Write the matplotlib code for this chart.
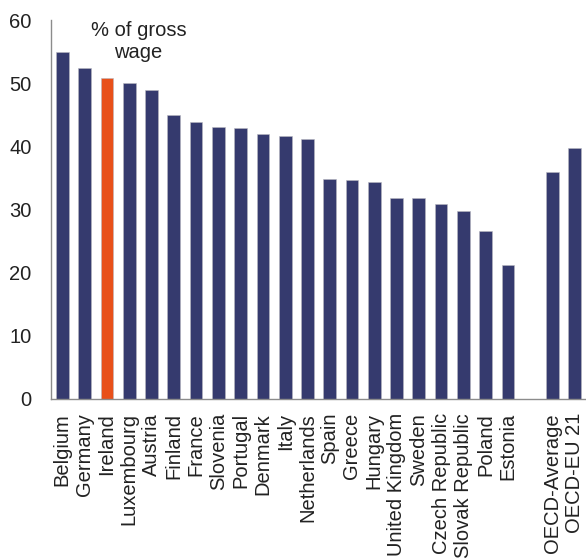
import numpy as np
import matplotlib.pyplot as plt

plt.rcParams.update({"font.family": "Liberation Sans", "font.size": 14.5})

countries = ["Belgium", "Germany", "Ireland", "Luxembourg", "Austria", "Finland",
             "France", "Slovenia", "Portugal", "Denmark", "Italy", "Netherlands",
             "Spain", "Greece", "Hungary", "United Kingdom", "Sweden",
             "Czech Republic", "Slovak Republic", "Poland", "Estonia"]
country_values = [54.9, 52.5, 50.9, 50.0, 49.0, 45.0, 43.8, 43.1, 42.9, 41.9, 41.7,
                  41.1, 34.9, 34.7, 34.4, 31.9, 31.9, 30.9, 29.7, 26.6, 21.2]
oecd_labels = ["OECD-Average", "OECD-EU 21"]
oecd_values = [36.0, 39.8]

navy = "#353a6e"
orange = "#e8501a"

labels = countries + oecd_labels
values = country_values + oecd_values
# leave one empty slot between the countries and the OECD bars
x = np.r_[np.arange(len(countries)), len(countries) + 1 + np.arange(len(oecd_labels))]
colors = [orange if c == "Ireland" else navy for c in labels]

fig = plt.figure(figsize=(5.86, 5.6), dpi=100)
ax = fig.add_axes([0.087, 0.2875, 0.911, 0.6765])

ax.bar(x, values, width=0.57, color=colors, edgecolor="#b8b8c0", linewidth=0.4)

ax.set_xlim(-0.51, 23.45)
ax.set_ylim(0, 60)
ax.set_yticks(np.arange(0, 61, 10))
ax.set_xticks(x)
ax.set_xticklabels(labels, rotation=90, color="#222222")
ax.tick_params(axis="both", length=0, colors="#222222")
ax.tick_params(axis="x", pad=10)
ax.tick_params(axis="y", pad=14)

for side in ["top", "right"]:
    ax.spines[side].set_visible(False)
for side in ["left", "bottom"]:
    ax.spines[side].set_color("#8c8c8c")
    ax.spines[side].set_linewidth(1.0)

ax.text(3.42, 56.6, "% of gross\nwage", ha="center", va="center",
        color="#222222", linespacing=1.2)

plt.savefig("out.png", dpi=100)
